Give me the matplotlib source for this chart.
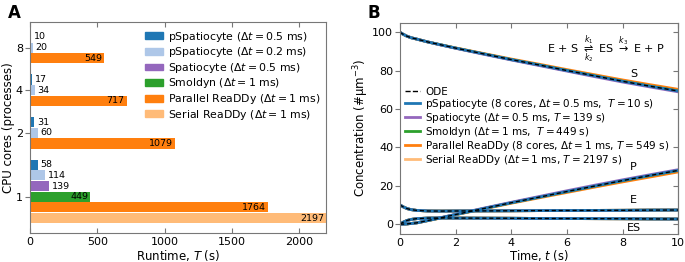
import matplotlib
matplotlib.use('Agg')
import matplotlib.pyplot as plt

# Panel A: runtime per method and core count
CORES = ['8', '4', '2', '1']
METHODS = [
    r'pSpatiocyte ($\Delta t = 0.5$ ms)',
    r'pSpatiocyte ($\Delta t = 0.2$ ms)',
    r'Spatiocyte ($\Delta t = 0.5$ ms)',
    r'Smoldyn ($\Delta t = 1$ ms)',
    r'Parallel ReaDDy ($\Delta t = 1$ ms)',
    r'Serial ReaDDy ($\Delta t = 1$ ms)',
]
COLORS = ['#1f77b4', '#aec7e8', '#9467bd', '#2ca02c', '#ff7f0e', '#ffbb78']
# runtimes (s) per group, listed as (method index, value)
RUNTIME_8 = [(0, 10), (1, 20), (4, 549)]
RUNTIME_4 = [(0, 17), (1, 34), (4, 717)]
RUNTIME_2 = [(0, 31), (1, 60), (4, 1079)]
RUNTIME_1 = [(0, 58), (1, 114), (2, 139), (3, 449), (4, 1764), (5, 2197)]
GROUPS = [RUNTIME_8, RUNTIME_4, RUNTIME_2, RUNTIME_1]
TICK_BAR = [1, 1, 1, 3]  # which bar in each group sits on the tick

# Panel B: concentrations (#/um^3)
T = [0, 0.1, 0.25, 0.4, 0.6, 1, 1.5, 2, 3, 4, 5, 6, 7, 8, 9, 10]
ODE_S = [100, 99.1, 98.0, 97.2, 96.5, 95.0, 93.4, 91.8, 88.8, 85.8, 83.0, 80.1, 77.3, 74.5, 71.9, 69.4]
ODE_E = [10, 9.1, 8.1, 7.55, 7.15, 6.85, 6.8, 6.85, 6.9, 6.95, 7.05, 7.1, 7.15, 7.2, 7.3, 7.35]
ODE_ES = [0, 0.9, 1.9, 2.45, 2.85, 3.15, 3.2, 3.15, 3.1, 3.05, 2.95, 2.9, 2.85, 2.8, 2.7, 2.65]
ODE_P = [0, 0.0, 0.1, 0.35, 0.65, 1.85, 3.4, 5.0, 8.1, 11.15, 14.05, 17.0, 19.85, 22.7, 25.4, 28.0]
PAR_S = [100, 99.1, 98.0, 97.2, 96.5, 95.0, 93.4, 91.9, 89.0, 86.1, 83.4, 80.6, 77.9, 75.2, 72.7, 70.3]
PAR_P = [0, 0.0, 0.1, 0.35, 0.65, 1.8, 3.3, 4.9, 7.9, 10.9, 13.7, 16.5, 19.3, 22.0, 24.6, 27.2]
SPA_S = [100, 99.1, 98.0, 97.2, 96.5, 95.0, 93.3, 91.7, 88.6, 85.6, 82.7, 79.8, 76.9, 74.1, 71.5, 69.0]
SPA_P = [0, 0.0, 0.1, 0.35, 0.65, 1.9, 3.5, 5.1, 8.3, 11.4, 14.4, 17.4, 20.3, 23.1, 25.8, 28.4]

SIM_LABELS = [
    r'pSpatiocyte (8 cores, $\Delta t = 0.5$ ms,  $T = 10$ s)',
    r'Spatiocyte ($\Delta t = 0.5$ ms, $T = 139$ s)',
    r'Smoldyn ($\Delta t = 1$ ms,  $T = 449$ s)',
    r'Parallel ReaDDy (8 cores, $\Delta t = 1$ ms, $T = 549$ s)',
    r'Serial ReaDDy ($\Delta t = 1$ ms, $T = 2197$ s)',
]
SIM_COLORS = ['#1f77b4', '#9467bd', '#2ca02c', '#ff7f0e', '#ffbb78']

FRAME = '#777777'


def style_axis(ax):
    for side in ax.spines:
        ax.spines[side].set_color(FRAME)
        ax.spines[side].set_linewidth(0.8)
    ax.tick_params(axis='x', direction='in', top=True, length=3.5, width=0.8,
                   color=FRAME, labelsize=8, pad=3)
    ax.tick_params(axis='y', direction='out', length=3.5, width=0.8,
                   color=FRAME, labelsize=8, pad=1.5)


def main():
    plt.rcParams['mathtext.fontset'] = 'dejavusans'
    fig = plt.figure(figsize=(6.85, 2.62), dpi=100)

    # ---- Panel A ----
    ax = fig.add_axes([0.0438, 0.111, 0.432, 0.805])
    slot = 0
    tick_pos = []
    for g, group in enumerate(GROUPS):
        for k, (m, val) in enumerate(group):
            ax.barh(slot, val, height=0.95, color=COLORS[m], linewidth=0)
            if k == TICK_BAR[g]:
                tick_pos.append(slot)
            if val > 300:
                ax.annotate(str(val), (val, slot), textcoords='offset points',
                            xytext=(-1.5, 0), ha='right', va='center', fontsize=6.8)
            else:
                ax.annotate(str(val), (val, slot), textcoords='offset points',
                            xytext=(2, 0), ha='left', va='center', fontsize=6.8)
            slot += 1
        slot += 1
    ax.set_ylim(slot - 1 + 0.4, -1.4)
    ax.set_xlim(0, 2197)
    ax.set_yticks(tick_pos)
    ax.set_yticklabels(CORES)
    ax.set_xticks([0, 500, 1000, 1500, 2000])
    style_axis(ax)
    ax.set_xlabel(r'Runtime, $T$ (s)', fontsize=8.5, labelpad=1)
    ax.set_ylabel('CPU cores (processes)', fontsize=8.5, labelpad=1)
    handles = [plt.Rectangle((0, 0), 1, 1, color=c) for c in COLORS]
    ax.legend(handles, METHODS, loc='upper right', bbox_to_anchor=(1.0, 0.99),
              frameon=False, fontsize=7.8, handlelength=1.6, handleheight=0.6,
              labelspacing=0.15, handletextpad=0.5, borderaxespad=0.1)
    fig.text(0.012, 0.985, 'A', fontsize=12, fontweight='bold', va='top')

    # ---- Panel B ----
    bx = fig.add_axes([0.584, 0.108, 0.406, 0.805])
    sim_s = [ODE_S, SPA_S, ODE_S, PAR_S, ODE_S]
    sim_p = [ODE_P, SPA_P, ODE_P, PAR_P, ODE_P]
    order = [4, 3, 2, 1, 0]
    for i in order:
        for ys in (sim_s[i], ODE_E, ODE_ES, sim_p[i]):
            bx.plot(T, ys, color=SIM_COLORS[i], linewidth=2)
    for ys in (ODE_S, ODE_E, ODE_ES, ODE_P):
        bx.plot(T, ys, color='black', linestyle='--', linewidth=1, dashes=(3, 2))
    bx.set_xlim(0, 10)
    bx.set_ylim(-5, 105)
    bx.set_xticks([0, 2, 4, 6, 8, 10])
    bx.set_yticks([0, 20, 40, 60, 80, 100])
    style_axis(bx)
    sec = bx.secondary_yaxis('right')
    sec.set_yticks([0, 20, 40, 60, 80, 100])
    sec.tick_params(direction='in', length=3.5, width=0.8, color=FRAME, labelright=False)
    sec.spines['right'].set_color(FRAME)
    bx.set_xlabel(r'Time, $t$ (s)', fontsize=8.3, labelpad=0)
    bx.set_ylabel(r'Concentration (#$\mathrm{\mu m}^{-3}$)', fontsize=8.5, labelpad=1)

    for name, x, y in (('S', 8.4, 78.4), ('P', 8.4, 29.7), ('E', 8.4, 12.8), ('ES', 8.4, -2.2)):
        bx.text(x, y, name, fontsize=8, ha='center', va='center')
    bx.text(7.4, 91.5, r'E + S $\underset{k_2}{\overset{k_1}{\rightleftharpoons}}$ ES '
            r'$\overset{k_3}{\rightarrow}$ E + P', fontsize=8, ha='center', va='center')

    lh = [plt.Line2D([], [], color='black', linestyle='--', linewidth=1)]
    lh += [plt.Line2D([], [], color=c, linewidth=2) for c in SIM_COLORS]
    bx.legend(lh, ['ODE'] + SIM_LABELS, loc='upper left', bbox_to_anchor=(0.0, 0.72),
              frameon=False, fontsize=7.5, labelspacing=0.0, handlelength=1.4,
              handletextpad=0.5, borderaxespad=0.1)
    fig.text(0.537, 0.985, 'B', fontsize=12, fontweight='bold', va='top')

    fig.savefig('out.png', dpi=100)


if __name__ == '__main__':
    main()
